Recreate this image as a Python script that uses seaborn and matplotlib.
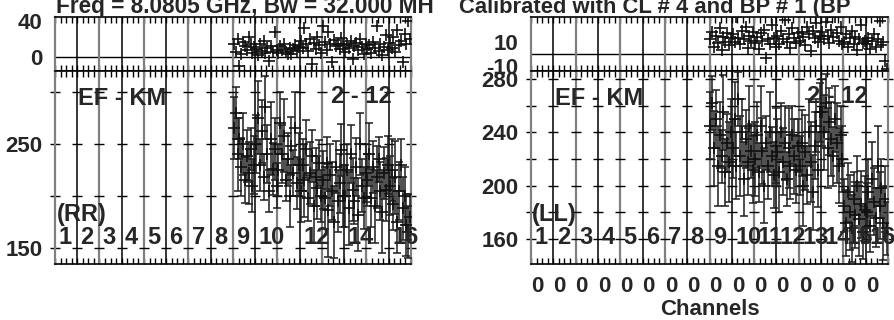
import numpy as np
import pandas as pd
import matplotlib
matplotlib.use('Agg')
import matplotlib.pyplot as plt
from matplotlib.ticker import MultipleLocator
import seaborn as sns

sns.set_style('white')
plt.rcParams['font.family'] = ['Liberation Sans', 'DejaVu Sans']
plt.rcParams['font.weight'] = 'bold'

# channels per IF and IFs; data only present in IFs 9-16
n_if = 16
nch = 12
first_if = 8

# phase (deg) RR, 12 channels per IF, IF 9..16
phase_rr = [15, 6, 20, -10, 3, 17, 12, 8, 22, 14, 5, 11,
            9, 2, 14, 7, 18, 5, 10, -4, 12, 6, 28, 8,
            4, 12, 8, 15, 6, 3, 10, 3, 9, 13, 7, 11,
            18, 10, 32, 14, 7, 20, -8, 16, 9, 22, 13, 5,
            35, 17, 8, 28, 14, -6, 19, 12, 15, 9, 21, 13,
            6, 14, 10, 18, -2, 12, 16, 8, 20, 11, 3, 15,
            9, 13, 5, 17, 10, 35, 7, 14, 2, 11, 24, 8,
            16, 10, 22, 6, 30, 13, 18, -5, 26, 14, 40, 20]

amp_rr = [265, 280, 240, 255, 228, 250, 215, 238, 222, 245, 210, 230,
          250, 275, 230, 262, 218, 285, 240, 205, 255, 226, 245, 210,
          225, 270, 240, 258, 215, 235, 200, 248, 222, 265, 212, 230,
          205, 230, 215, 245, 198, 222, 238, 190, 218, 208, 232, 200,
          215, 198, 232, 186, 220, 205, 175, 228, 195, 212, 244, 200,
          200, 225, 188, 240, 206, 195, 228, 182, 250, 210, 198, 222,
          215, 240, 198, 228, 190, 218, 235, 205, 185, 222, 206, 230,
          210, 225, 192, 218, 175, 205, 230, 188, 200, 172, 165, 180]

amp_rr_err = [30, 25, 35, 20, 28, 30, 22, 25, 30, 20, 25, 28,
              28, 35, 25, 30, 22, 30, 28, 20, 35, 25, 30, 22,
              25, 30, 28, 35, 20, 25, 30, 28, 22, 35, 25, 30,
              30, 25, 35, 28, 22, 30, 25, 35, 28, 30, 22, 25,
              28, 30, 25, 45, 30, 28, 35, 25, 30, 28, 25, 30,
              30, 25, 35, 28, 30, 22, 28, 35, 30, 25, 30, 28,
              25, 30, 28, 25, 35, 30, 22, 28, 40, 25, 30, 28,
              28, 30, 25, 35, 30, 28, 25, 30, 28, 30, 25, 22]

phase_ll = [12, 18, 6, 15, 9, 21, 3, 14, 10, 17, 7, 13,
            16, 10, 30, 13, 8, 19, 12, 22, 5, 15, 11, 18,
            9, 14, 4, 17, 11, 20, -3, 12, 8, 24, 13, 6,
            15, 8, 19, 12, 28, 10, 16, 5, 21, 13, 9, 17,
            11, 18, 14, 7, 22, 16, 2, 19, 13, 25, 10, 15,
            18, 12, 26, 15, 9, 20, 14, 30, 17, 11, 22, 8,
            10, 16, 6, 13, 19, 8, 14, 3, 12, 24, 9, 11,
            8, 13, 4, 11, 16, 6, 12, 27, 7, 10, -6, -12]

amp_ll = [245, 262, 228, 250, 215, 238, 222, 255, 210, 232, 218, 240,
          228, 250, 215, 265, 222, 240, 205, 235, 218, 245, 226, 212,
          220, 238, 210, 245, 226, 200, 232, 215, 240, 222, 208, 230,
          225, 210, 240, 218, 232, 205, 228, 215, 238, 222, 212, 230,
          215, 232, 200, 225, 208, 240, 218, 195, 230, 245, 212, 255,
          255, 240, 262, 228, 248, 235, 222, 250, 232, 215, 238, 220,
          185, 172, 195, 180, 168, 190, 178, 200, 175, 186, 165, 182,
          180, 195, 170, 205, 188, 176, 215, 185, 198, 172, 190, 168]

amp_ll_err = [25, 20, 28, 22, 30, 25, 20, 28, 25, 22, 30, 25,
              22, 28, 25, 20, 30, 25, 28, 22, 25, 30, 20, 25,
              28, 25, 22, 30, 25, 28, 20, 25, 30, 22, 25, 28,
              25, 30, 22, 25, 28, 20, 30, 25, 22, 28, 25, 20,
              22, 25, 30, 28, 22, 25, 30, 28, 25, 20, 28, 22,
              25, 28, 22, 30, 25, 28, 22, 25, 30, 28, 22, 25,
              20, 25, 22, 28, 25, 20, 25, 22, 28, 25, 20, 25,
              22, 25, 20, 28, 25, 22, 30, 25, 22, 28, 25, 20]

if_labels_rr = ['1', '2', '3', '4', '5', '6', '7', '8', '9', '10', '', '12', '', '14', '', '16']
if_labels_ll = [str(i) for i in range(1, 17)]

title_left = 'Freq = 8.0805 GHz, Bw = 32.000 MH'
title_right = 'Calibrated with CL # 4 and BP # 1 (BP'

chan = np.arange(first_if * nch, n_if * nch) + 0.5
df = pd.DataFrame({'chan': chan, 'phase_rr': phase_rr, 'amp_rr': amp_rr,
                   'err_rr': amp_rr_err, 'phase_ll': phase_ll,
                   'amp_ll': amp_ll, 'err_ll': amp_ll_err})

W, H = 895, 320
fig = plt.figure(figsize=(W / 100, H / 100), dpi=100)


def box(x0, y0, x1, y1):
    return [x0 / W, 1 - y1 / H, (x1 - x0) / W, (y1 - y0) / H]


bounds = np.arange(n_if + 1) * nch
pt_col = '#111111'


def style_axes(ax, yticks, ylabels, dash_ticks):
    ax.set_xlim(0, n_if * nch)
    ax.xaxis.set_major_locator(MultipleLocator(nch))
    ax.xaxis.set_minor_locator(MultipleLocator(nch / 4))
    ax.tick_params(axis='x', which='both', direction='in', top=True, bottom=True,
                   length=4, width=1, labelbottom=False, color='k')
    ax.set_yticks(yticks)
    ax.set_yticklabels(ylabels)
    ax.tick_params(axis='y', length=0, pad=9, labelsize=16)
    for i, b in enumerate(bounds[1:-1], start=1):
        ax.axvline(b, color='k' if i % 2 else '#808080', lw=1.1 if i % 2 else 1.6, zorder=1)
    for s in ['top', 'bottom']:
        ax.spines[s].set_color('k')
        ax.spines[s].set_linewidth(1.2)
    for s in ['left', 'right']:
        ax.spines[s].set_color('#808080')
        ax.spines[s].set_linewidth(1.6)
    if dash_ticks is not None:
        ax.plot(np.repeat(bounds, len(dash_ticks)), np.tile(dash_ticks, len(bounds)),
                ls='none', marker='_', ms=7, mew=1, color='k', clip_on=False, zorder=2)


def panel(x0, x1, ph_col, amp_col, err_col, ph_lim, ph_ticks, ph_labels,
          amp_lim, amp_ticks, amp_labels, dash_ticks, if_labels, pol, lab_x):
    ax_ph = fig.add_axes(box(x0, 17, x1, 71))
    ax_amp = fig.add_axes(box(x0, 71, x1, 264))

    ax_ph.axhline(0, color='k', lw=1, zorder=1)
    sns.scatterplot(data=df, x='chan', y=ph_col, ax=ax_ph, marker='+', s=70,
                    color=pt_col, linewidth=1.2, zorder=3)
    ax_ph.set_ylim(*ph_lim)
    style_axes(ax_ph, ph_ticks, ph_labels, None)
    ax_ph.set_xlabel('')
    ax_ph.set_ylabel('')

    ax_amp.errorbar(df['chan'], df[amp_col], yerr=df[err_col], fmt='none',
                    ecolor='#1e1e1e', elinewidth=1.1, capsize=3.2, capthick=1.1, zorder=3)
    sns.scatterplot(data=df, x='chan', y=amp_col, ax=ax_amp, marker='+', s=70,
                    color=pt_col, linewidth=1.2, zorder=4)
    ax_amp.set_ylim(*amp_lim)
    style_axes(ax_amp, amp_ticks, amp_labels, dash_ticks)
    ax_amp.set_xlabel('')
    ax_amp.set_ylabel('')

    trans = ax_amp.get_xaxis_transform()
    for i, lab in enumerate(if_labels):
        ax_amp.text(bounds[i] + 0.15 * nch, 0.105, lab, transform=trans, fontsize=17,
                    fontweight='bold', ha='left', va='baseline', zorder=5)
    ax_amp.text(lab_x, 0.225, pol, transform=ax_amp.transAxes, fontsize=17,
                fontweight='bold', ha='left', va='baseline')
    ax_amp.text(0.066, 0.826, 'EF - KM', transform=ax_amp.transAxes, fontsize=17,
                fontweight='bold', ha='left', va='baseline')
    ax_amp.text(0.774, 0.834, '2 - 12', transform=ax_amp.transAxes, fontsize=17,
                fontweight='bold', ha='left', va='baseline')
    return ax_ph, ax_amp


panel(55, 411, 'phase_rr', 'amp_rr', 'err_rr', (-15.5, 44.5), [0, 40], ['0', '40'],
      (134.6, 320), [150, 250], ['150', '250'], [150, 200, 250, 300],
      if_labels_rr, '(RR)', 0.006)

ax_ph2, ax_amp2 = panel(531, 888, 'phase_ll', 'amp_ll', 'err_ll', (-14, 30.3), [-10, 10],
                        ['-10', '10'], (141.3, 286), [160, 200, 240, 280],
                        ['160', '200', '240', '280'], [160, 180, 200, 220, 240, 260, 280],
                        if_labels_ll, '(LL)', 0.003)

ax_amp2.set_xticks(bounds[:-1])
ax_amp2.set_xticklabels(['0'] * n_if)
ax_amp2.tick_params(axis='x', which='major', labelbottom=True, labelsize=16, pad=9)
for t in ax_amp2.get_xticklabels():
    t.set_ha('left')
ax_amp2.set_xlabel('Channels', fontsize=16, fontweight='bold', labelpad=1)

fig.text(56 / W, 1 - 12.5 / H, title_left, fontsize=16.3, fontweight='bold',
         ha='left', va='baseline')
fig.text(459 / W, 1 - 12.5 / H, title_right, fontsize=15.8, fontweight='bold',
         ha='left', va='baseline')

fig.savefig('out.png', dpi=100, facecolor='white')
